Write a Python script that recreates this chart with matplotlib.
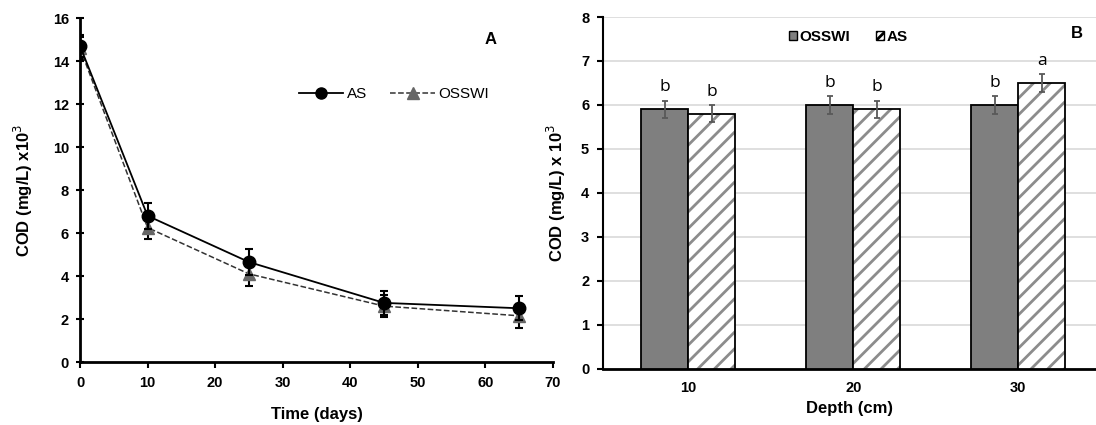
import matplotlib.pyplot as plt
import numpy as np
from matplotlib.lines import Line2D
from matplotlib.patches import Patch

plt.rcParams['font.family'] = ['Liberation Sans', 'DejaVu Sans']
plt.rcParams['hatch.linewidth'] = 2.0

# Panel A: COD over time
days = [0, 10, 25, 45, 65]
as_cod = [14.7, 6.8, 4.65, 2.75, 2.5]
as_err = [0.5, 0.6, 0.6, 0.55, 0.55]
osswi_cod = [14.6, 6.25, 4.1, 2.6, 2.15]
osswi_err = [0.5, 0.55, 0.55, 0.5, 0.55]

# Panel B: COD by depth
depths = ['10', '20', '30']
osswi_depth = [5.9, 6.0, 6.0]
osswi_depth_err = [0.2, 0.2, 0.2]
as_depth = [5.8, 5.9, 6.5]
as_depth_err = [0.2, 0.2, 0.2]
osswi_letters = ['b', 'b', 'b']
as_letters = ['b', 'b', 'a']

fig = plt.figure(figsize=(10.96, 4.25), dpi=100)

# ---- A ----
ax1 = fig.add_axes([0.073, 0.1482, 0.4316, 0.8094])
ax1.errorbar(days, as_cod, yerr=as_err, color='black', lw=1.3, marker='o',
             ms=9, capsize=3, elinewidth=1.5, capthick=1.5, ecolor='black',
             zorder=3)
ax1.errorbar(days, osswi_cod, yerr=osswi_err, color='#333333', ls='--', lw=1.1,
             marker='^', ms=8, mfc='#666666', mec='#666666', capsize=3,
             elinewidth=1.5, capthick=1.5, ecolor='black', zorder=2)
ax1.set_xlim(0, 70)
ax1.set_ylim(0, 16)
ax1.set_xticks(range(0, 71, 10))
ax1.set_yticks(range(0, 17, 2))
for s in ['top', 'right']:
    ax1.spines[s].set_visible(False)
for s in ['left', 'bottom']:
    ax1.spines[s].set_linewidth(2)
ax1.tick_params(axis='x', direction='out', length=4, width=1.5, labelsize=10.5,
                pad=6)
ax1.tick_params(axis='y', direction='inout', length=6, width=1.5, labelsize=10.5,
                pad=5)
for lab in ax1.get_xticklabels() + ax1.get_yticklabels():
    lab.set_fontweight('bold')
ax1.set_xlabel('Time (days)', fontsize=12, fontweight='bold', labelpad=12)
ax1.set_ylabel('COD (mg/L) x10$^3$', fontsize=12, fontweight='bold', labelpad=13)
l1 = Line2D([], [], color='black', lw=1.3, marker='o', ms=8)
l2 = Line2D([], [], color='#333333', ls='--', lw=1.1, marker='^', ms=8,
            mfc='#666666', mec='#666666')
ax1.legend([l1, l2], ['AS', 'OSSWI'], loc='center left',
           bbox_to_anchor=(0.463, 0.779), ncol=2, frameon=False,
           fontsize=11, handlelength=2.9, columnspacing=1.5,
           handletextpad=0.26, borderpad=0, borderaxespad=0)
ax1.text(0.867, 0.939, 'A', transform=ax1.transAxes, fontsize=12,
         fontweight='bold', ha='center', va='center')

# ---- B ----
ax2 = fig.add_axes([0.5502, 0.1329, 0.4498, 0.827])
x = np.arange(len(depths))
w = 0.285
ax2.bar(x - w / 2, osswi_depth, w, color='#7f7f7f', edgecolor='black',
        lw=1.3, zorder=3)
ax2.bar(x + w / 2, as_depth, w, color='white', edgecolor='#8c8c8c', hatch='//',
        lw=0, zorder=3)
ax2.bar(x + w / 2, as_depth, w, color='none', edgecolor='black', lw=1.3, zorder=4)
ax2.errorbar(x - w / 2, osswi_depth, yerr=osswi_depth_err, fmt='none',
             ecolor='#595959', capsize=2.5, elinewidth=1.3, capthick=1.3, zorder=5)
ax2.errorbar(x + w / 2, as_depth, yerr=as_depth_err, fmt='none',
             ecolor='#595959', capsize=2.5, elinewidth=1.3, capthick=1.3, zorder=5)
for i in range(len(depths)):
    ax2.text(x[i] - w / 2, osswi_depth[i] + osswi_depth_err[i] + 0.12,
             osswi_letters[i], ha='center', va='bottom', fontsize=12.5,
             family=['Open Sans', 'DejaVu Sans'])
    ax2.text(x[i] + w / 2, as_depth[i] + as_depth_err[i] + 0.12,
             as_letters[i], ha='center', va='bottom', fontsize=12.5,
             family=['Open Sans', 'DejaVu Sans'])
ax2.set_xlim(-0.515, 2.47)
ax2.set_ylim(0, 8)
ax2.set_xticks(x)
ax2.set_xticklabels(depths)
ax2.set_yticks(range(0, 9))
ax2.yaxis.grid(True, color='#d9d9d9', lw=1.2, zorder=0)
ax2.set_axisbelow(True)
for s in ['top', 'right']:
    ax2.spines[s].set_visible(False)
ax2.spines['left'].set_linewidth(1.5)
ax2.spines['bottom'].set_linewidth(2)
ax2.tick_params(axis='x', length=0, labelsize=10.5, pad=9)
ax2.tick_params(axis='y', direction='out', length=4, width=1.5, labelsize=10.5,
                pad=6)
for lab in ax2.get_xticklabels() + ax2.get_yticklabels():
    lab.set_fontweight('bold')
ax2.set_xlabel('Depth (cm)', fontsize=12, fontweight='bold', labelpad=4)
ax2.set_ylabel('COD (mg/L) x 10$^3$', fontsize=12, fontweight='bold', labelpad=9)

h1 = Patch(facecolor='#7f7f7f', edgecolor='black', lw=1)
h2 = Patch(facecolor='white', edgecolor='black', hatch='////', lw=1)
ax2.legend([h1, h2], ['OSSWI', 'AS'], loc='center left',
           bbox_to_anchor=(0.377, 0.943), ncol=2, frameon=False,
           handlelength=0.55, handleheight=0.55, handletextpad=0.13,
           columnspacing=1.7, borderpad=0, borderaxespad=0,
           prop={'weight': 'bold', 'size': 11})
ax2.text(0.961, 0.954, 'B', transform=ax2.transAxes, fontsize=12,
         fontweight='bold', ha='center', va='center')

fig.savefig('out.png', dpi=100)
